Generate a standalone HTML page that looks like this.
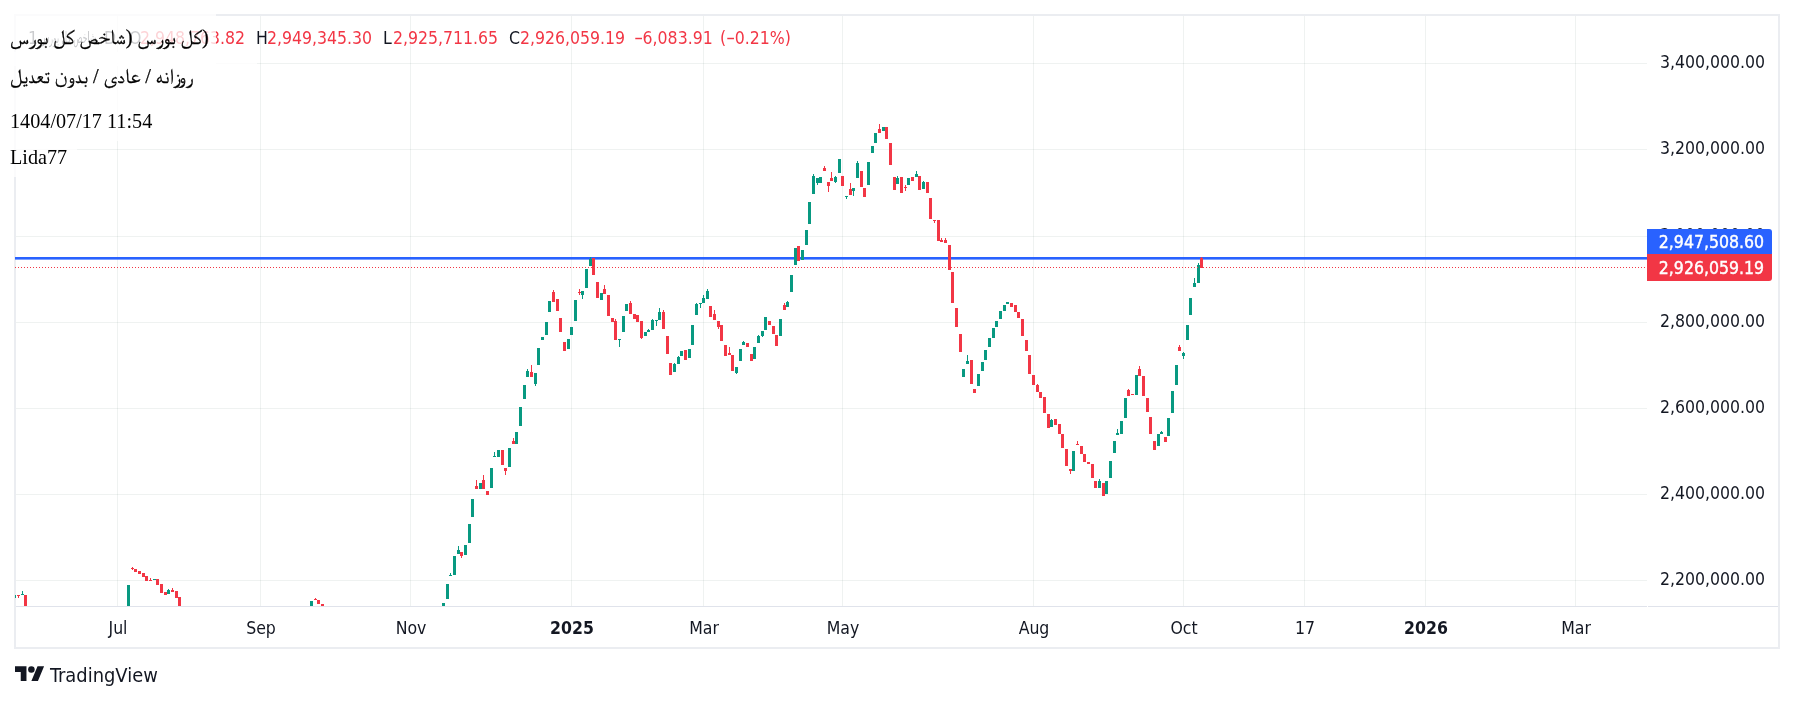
<!DOCTYPE html>
<html><head><meta charset="utf-8">
<style>
html,body{margin:0;padding:0;background:#fff;}
body{width:1794px;height:701px;position:relative;overflow:hidden;font-family:"DejaVu Sans Condensed","DejaVu Sans",sans-serif;font-stretch:condensed;}
.frame{position:absolute;left:14px;top:14px;width:1762px;height:631px;border:2px solid #ebedf1;}
svg.chart{position:absolute;left:0;top:0;}
.pl{position:absolute;right:29px;font-size:17.5px;color:#131722;line-height:20px;white-space:nowrap;text-align:right;}
.tl{position:absolute;top:618px;font-size:17.5px;color:#131722;line-height:20px;white-space:nowrap;transform:translateX(-50%);}
.lg{position:absolute;top:28px;font-size:17.5px;line-height:20px;white-space:nowrap;color:#f23645;}
.mn{display:inline-block;width:8.6px;transform:scaleX(0.68);transform-origin:0 50%;}
.ov{position:absolute;background:rgba(255,255,255,0.78);}
.ft{position:absolute;left:10px;font-family:"Liberation Serif","FreeSerif","DejaVu Sans",serif;font-size:20.2px;color:#000;white-space:nowrap;line-height:24px;}
.lbl{position:absolute;left:1647px;width:125px;color:#fff;-webkit-text-stroke:0.4px #fff;font-size:17.5px;line-height:20px;text-align:right;box-sizing:border-box;padding-right:8px;border-radius:0 3px 3px 0;}
.logo{position:absolute;left:15px;top:663px;}
.tvt{position:absolute;left:50px;top:663.5px;font-size:19.9px;color:#131722;line-height:24px;}
div{will-change:transform;}
</style></head><body>
<div class="frame"></div>
<svg class="chart" width="1794" height="701" viewBox="0 0 1794 701" shape-rendering="crispEdges">
<g fill="#1b4537" fill-opacity="0.07">
<rect x="16" y="63" width="1631" height="1"/>
<rect x="16" y="149" width="1631" height="1"/>
<rect x="16" y="236" width="1631" height="1"/>
<rect x="16" y="322" width="1631" height="1"/>
<rect x="16" y="408" width="1631" height="1"/>
<rect x="16" y="494" width="1631" height="1"/>
<rect x="16" y="580" width="1631" height="1"/>
<rect x="117" y="16" width="1" height="590"/>
<rect x="260" y="16" width="1" height="590"/>
<rect x="410" y="16" width="1" height="590"/>
<rect x="571" y="16" width="1" height="590"/>
<rect x="703" y="16" width="1" height="590"/>
<rect x="842" y="16" width="1" height="590"/>
<rect x="1033" y="16" width="1" height="590"/>
<rect x="1183" y="16" width="1" height="590"/>
<rect x="1304" y="16" width="1" height="590"/>
<rect x="1425" y="16" width="1" height="590"/>
<rect x="1575" y="16" width="1" height="590"/>
</g>
<rect x="16" y="606" width="1631" height="1" fill="#e0e3eb"/>
<rect x="1648" y="606" width="130" height="1" fill="#e0e3eb"/>
<rect x="15" y="257" width="1632" height="2.6" fill="#2962ff" shape-rendering="auto"/>
<g fill="#089981"><rect x="15" y="595" width="1" height="3"/><rect x="21" y="594" width="3" height="1"/><rect x="22" y="591" width="1" height="4"/><rect x="127" y="585" width="3" height="21"/><rect x="153" y="579" width="3" height="1"/><rect x="167" y="590" width="3" height="4"/><rect x="168" y="589" width="1" height="5"/><rect x="310" y="601" width="3" height="5"/><rect x="442" y="603" width="3" height="3"/><rect x="446" y="584" width="3" height="15"/><rect x="449" y="575" width="3" height="1"/><rect x="450" y="573" width="1" height="3"/><rect x="453" y="556" width="3" height="19"/><rect x="457" y="550" width="3" height="4"/><rect x="458" y="546" width="1" height="8"/><rect x="464" y="545" width="3" height="10"/><rect x="468" y="524" width="3" height="19"/><rect x="471" y="499" width="3" height="18"/><rect x="479" y="483" width="3" height="6"/><rect x="490" y="468" width="3" height="20"/><rect x="493" y="456" width="3" height="1"/><rect x="494" y="452" width="1" height="5"/><rect x="497" y="450" width="3" height="7"/><rect x="508" y="448" width="3" height="19"/><rect x="515" y="432" width="3" height="12"/><rect x="519" y="407" width="3" height="19"/><rect x="523" y="385" width="3" height="14"/><rect x="526" y="371" width="3" height="6"/><rect x="527" y="369" width="1" height="8"/><rect x="534" y="373" width="3" height="11"/><rect x="535" y="373" width="1" height="13"/><rect x="537" y="348" width="3" height="17"/><rect x="541" y="337" width="3" height="3"/><rect x="545" y="322" width="3" height="13"/><rect x="548" y="301" width="3" height="11"/><rect x="567" y="339" width="3" height="10"/><rect x="570" y="327" width="3" height="8"/><rect x="574" y="300" width="3" height="21"/><rect x="581" y="291" width="3" height="4"/><rect x="582" y="291" width="1" height="8"/><rect x="585" y="269" width="3" height="19"/><rect x="589" y="259" width="3" height="7"/><rect x="590" y="257" width="1" height="9"/><rect x="600" y="293" width="3" height="7"/><rect x="618" y="339" width="3" height="1"/><rect x="619" y="339" width="1" height="8"/><rect x="622" y="316" width="3" height="16"/><rect x="625" y="304" width="3" height="7"/><rect x="644" y="332" width="3" height="4"/><rect x="647" y="330" width="3" height="2"/><rect x="648" y="329" width="1" height="3"/><rect x="651" y="320" width="3" height="10"/><rect x="652" y="319" width="1" height="11"/><rect x="655" y="320" width="3" height="1"/><rect x="656" y="320" width="1" height="6"/><rect x="658" y="312" width="3" height="8"/><rect x="659" y="308" width="1" height="12"/><rect x="673" y="364" width="3" height="8"/><rect x="674" y="363" width="1" height="9"/><rect x="677" y="357" width="3" height="7"/><rect x="678" y="356" width="1" height="8"/><rect x="680" y="351" width="3" height="5"/><rect x="688" y="349" width="3" height="9"/><rect x="691" y="325" width="3" height="20"/><rect x="695" y="304" width="3" height="11"/><rect x="696" y="303" width="1" height="12"/><rect x="699" y="303" width="3" height="1"/><rect x="700" y="303" width="1" height="5"/><rect x="702" y="298" width="3" height="5"/><rect x="703" y="295" width="1" height="8"/><rect x="706" y="291" width="3" height="8"/><rect x="707" y="289" width="1" height="10"/><rect x="735" y="367" width="3" height="6"/><rect x="736" y="367" width="1" height="7"/><rect x="739" y="349" width="3" height="12"/><rect x="742" y="342" width="3" height="3"/><rect x="743" y="341" width="1" height="4"/><rect x="753" y="347" width="3" height="12"/><rect x="757" y="336" width="3" height="7"/><rect x="758" y="335" width="1" height="8"/><rect x="761" y="331" width="3" height="5"/><rect x="762" y="331" width="1" height="6"/><rect x="764" y="317" width="3" height="13"/><rect x="779" y="319" width="3" height="17"/><rect x="786" y="302" width="3" height="5"/><rect x="787" y="301" width="1" height="6"/><rect x="790" y="275" width="3" height="17"/><rect x="794" y="248" width="3" height="17"/><rect x="801" y="250" width="3" height="10"/><rect x="805" y="230" width="3" height="15"/><rect x="808" y="202" width="3" height="22"/><rect x="812" y="176" width="3" height="18"/><rect x="813" y="174" width="1" height="20"/><rect x="816" y="178" width="3" height="5"/><rect x="817" y="178" width="1" height="7"/><rect x="819" y="177" width="3" height="6"/><rect x="834" y="177" width="3" height="5"/><rect x="835" y="176" width="1" height="7"/><rect x="838" y="159" width="3" height="14"/><rect x="845" y="196" width="3" height="1"/><rect x="846" y="196" width="1" height="3"/><rect x="852" y="188" width="3" height="3"/><rect x="853" y="188" width="1" height="8"/><rect x="856" y="163" width="3" height="15"/><rect x="857" y="161" width="1" height="17"/><rect x="867" y="162" width="3" height="23"/><rect x="871" y="146" width="3" height="7"/><rect x="874" y="133" width="3" height="10"/><rect x="882" y="127" width="3" height="4"/><rect x="896" y="178" width="3" height="6"/><rect x="897" y="176" width="1" height="8"/><rect x="907" y="178" width="3" height="7"/><rect x="915" y="174" width="3" height="3"/><rect x="916" y="171" width="1" height="6"/><rect x="922" y="182" width="3" height="7"/><rect x="923" y="181" width="1" height="8"/><rect x="962" y="369" width="3" height="8"/><rect x="966" y="361" width="3" height="3"/><rect x="967" y="355" width="1" height="9"/><rect x="977" y="374" width="3" height="12"/><rect x="981" y="362" width="3" height="9"/><rect x="984" y="350" width="3" height="10"/><rect x="988" y="338" width="3" height="9"/><rect x="992" y="328" width="3" height="10"/><rect x="995" y="321" width="3" height="6"/><rect x="999" y="311" width="3" height="8"/><rect x="1003" y="305" width="3" height="6"/><rect x="1006" y="302" width="3" height="2"/><rect x="1007" y="302" width="1" height="2"/><rect x="1050" y="420" width="3" height="7"/><rect x="1051" y="419" width="1" height="8"/><rect x="1072" y="451" width="3" height="20"/><rect x="1098" y="481" width="3" height="7"/><rect x="1099" y="479" width="1" height="9"/><rect x="1105" y="481" width="3" height="13"/><rect x="1109" y="461" width="3" height="17"/><rect x="1113" y="441" width="3" height="12"/><rect x="1116" y="433" width="3" height="2"/><rect x="1117" y="429" width="1" height="6"/><rect x="1120" y="421" width="3" height="13"/><rect x="1124" y="398" width="3" height="20"/><rect x="1135" y="375" width="3" height="20"/><rect x="1157" y="434" width="3" height="12"/><rect x="1160" y="432" width="3" height="2"/><rect x="1161" y="431" width="1" height="3"/><rect x="1167" y="418" width="3" height="18"/><rect x="1171" y="391" width="3" height="22"/><rect x="1175" y="365" width="3" height="20"/><rect x="1182" y="353" width="3" height="3"/><rect x="1183" y="352" width="1" height="7"/><rect x="1186" y="325" width="3" height="15"/><rect x="1189" y="298" width="3" height="17"/><rect x="1193" y="283" width="3" height="4"/><rect x="1194" y="278" width="1" height="9"/><rect x="1197" y="265" width="3" height="18"/><rect x="1198" y="263" width="1" height="20"/></g><g fill="#f23645"><rect x="17" y="595" width="3" height="1"/><rect x="18" y="595" width="1" height="3"/><rect x="24" y="595" width="3" height="11"/><rect x="131" y="568" width="3" height="1"/><rect x="132" y="567" width="1" height="3"/><rect x="134" y="569" width="3" height="3"/><rect x="138" y="571" width="3" height="3"/><rect x="142" y="573" width="3" height="4"/><rect x="145" y="576" width="3" height="5"/><rect x="149" y="580" width="3" height="1"/><rect x="150" y="578" width="1" height="3"/><rect x="156" y="579" width="3" height="6"/><rect x="160" y="584" width="3" height="9"/><rect x="164" y="592" width="3" height="3"/><rect x="171" y="590" width="3" height="2"/><rect x="172" y="588" width="1" height="4"/><rect x="175" y="591" width="3" height="7"/><rect x="178" y="597" width="3" height="9"/><rect x="314" y="599" width="3" height="1"/><rect x="315" y="598" width="1" height="2"/><rect x="317" y="600" width="3" height="4"/><rect x="321" y="604" width="3" height="2"/><rect x="460" y="552" width="3" height="4"/><rect x="461" y="552" width="1" height="6"/><rect x="475" y="486" width="3" height="3"/><rect x="476" y="480" width="1" height="9"/><rect x="482" y="480" width="3" height="9"/><rect x="483" y="475" width="1" height="14"/><rect x="486" y="491" width="3" height="4"/><rect x="501" y="450" width="3" height="15"/><rect x="504" y="468" width="3" height="3"/><rect x="505" y="468" width="1" height="7"/><rect x="512" y="441" width="3" height="3"/><rect x="513" y="438" width="1" height="6"/><rect x="530" y="372" width="3" height="5"/><rect x="531" y="365" width="1" height="12"/><rect x="552" y="292" width="3" height="10"/><rect x="553" y="290" width="1" height="12"/><rect x="556" y="299" width="3" height="12"/><rect x="559" y="318" width="3" height="14"/><rect x="563" y="342" width="3" height="9"/><rect x="578" y="292" width="3" height="1"/><rect x="579" y="289" width="1" height="6"/><rect x="592" y="258" width="3" height="17"/><rect x="596" y="282" width="3" height="16"/><rect x="603" y="289" width="3" height="5"/><rect x="604" y="285" width="1" height="9"/><rect x="607" y="295" width="3" height="21"/><rect x="611" y="318" width="3" height="4"/><rect x="614" y="321" width="3" height="19"/><rect x="615" y="319" width="1" height="21"/><rect x="629" y="303" width="3" height="11"/><rect x="630" y="301" width="1" height="13"/><rect x="633" y="314" width="3" height="5"/><rect x="636" y="315" width="3" height="7"/><rect x="640" y="321" width="3" height="17"/><rect x="641" y="321" width="1" height="18"/><rect x="662" y="312" width="3" height="17"/><rect x="663" y="310" width="1" height="19"/><rect x="666" y="336" width="3" height="18"/><rect x="669" y="363" width="3" height="12"/><rect x="684" y="350" width="3" height="10"/><rect x="709" y="306" width="3" height="11"/><rect x="713" y="314" width="3" height="6"/><rect x="714" y="310" width="1" height="10"/><rect x="717" y="321" width="3" height="6"/><rect x="718" y="321" width="1" height="8"/><rect x="720" y="325" width="3" height="16"/><rect x="724" y="345" width="3" height="11"/><rect x="728" y="353" width="3" height="2"/><rect x="729" y="347" width="1" height="8"/><rect x="731" y="355" width="3" height="16"/><rect x="746" y="343" width="3" height="4"/><rect x="750" y="354" width="3" height="7"/><rect x="768" y="321" width="3" height="4"/><rect x="772" y="326" width="3" height="8"/><rect x="775" y="335" width="3" height="11"/><rect x="783" y="305" width="3" height="5"/><rect x="784" y="303" width="1" height="7"/><rect x="797" y="246" width="3" height="15"/><rect x="823" y="168" width="3" height="3"/><rect x="824" y="166" width="1" height="5"/><rect x="827" y="182" width="3" height="4"/><rect x="828" y="182" width="1" height="10"/><rect x="830" y="178" width="3" height="3"/><rect x="831" y="172" width="1" height="9"/><rect x="841" y="176" width="3" height="10"/><rect x="849" y="189" width="3" height="6"/><rect x="850" y="183" width="1" height="12"/><rect x="860" y="171" width="3" height="16"/><rect x="863" y="188" width="3" height="9"/><rect x="878" y="129" width="3" height="4"/><rect x="879" y="124" width="1" height="9"/><rect x="885" y="127" width="3" height="12"/><rect x="889" y="143" width="3" height="22"/><rect x="893" y="177" width="3" height="13"/><rect x="900" y="177" width="3" height="16"/><rect x="904" y="187" width="3" height="1"/><rect x="905" y="185" width="1" height="6"/><rect x="911" y="177" width="3" height="4"/><rect x="918" y="176" width="3" height="14"/><rect x="926" y="182" width="3" height="11"/><rect x="929" y="198" width="3" height="21"/><rect x="933" y="220" width="3" height="1"/><rect x="934" y="220" width="1" height="3"/><rect x="937" y="220" width="3" height="21"/><rect x="940" y="240" width="3" height="2"/><rect x="941" y="238" width="1" height="4"/><rect x="944" y="240" width="3" height="3"/><rect x="945" y="238" width="1" height="5"/><rect x="948" y="245" width="3" height="25"/><rect x="951" y="272" width="3" height="31"/><rect x="955" y="308" width="3" height="19"/><rect x="959" y="334" width="3" height="18"/><rect x="970" y="360" width="3" height="24"/><rect x="973" y="389" width="3" height="4"/><rect x="1010" y="303" width="3" height="4"/><rect x="1014" y="305" width="3" height="7"/><rect x="1017" y="312" width="3" height="6"/><rect x="1021" y="319" width="3" height="17"/><rect x="1025" y="340" width="3" height="11"/><rect x="1028" y="355" width="3" height="19"/><rect x="1032" y="375" width="3" height="10"/><rect x="1036" y="385" width="3" height="7"/><rect x="1037" y="384" width="1" height="8"/><rect x="1039" y="392" width="3" height="6"/><rect x="1043" y="397" width="3" height="16"/><rect x="1047" y="414" width="3" height="14"/><rect x="1054" y="419" width="3" height="6"/><rect x="1058" y="424" width="3" height="10"/><rect x="1061" y="434" width="3" height="14"/><rect x="1065" y="449" width="3" height="17"/><rect x="1069" y="469" width="3" height="2"/><rect x="1070" y="469" width="1" height="5"/><rect x="1076" y="444" width="3" height="1"/><rect x="1077" y="441" width="1" height="4"/><rect x="1080" y="446" width="3" height="8"/><rect x="1083" y="454" width="3" height="8"/><rect x="1087" y="462" width="3" height="2"/><rect x="1091" y="464" width="3" height="14"/><rect x="1094" y="481" width="3" height="7"/><rect x="1102" y="483" width="3" height="13"/><rect x="1127" y="390" width="3" height="6"/><rect x="1128" y="389" width="1" height="7"/><rect x="1131" y="394" width="3" height="1"/><rect x="1138" y="369" width="3" height="7"/><rect x="1139" y="366" width="1" height="10"/><rect x="1142" y="376" width="3" height="20"/><rect x="1146" y="398" width="3" height="14"/><rect x="1149" y="417" width="3" height="17"/><rect x="1153" y="441" width="3" height="9"/><rect x="1164" y="437" width="3" height="5"/><rect x="1178" y="347" width="3" height="4"/><rect x="1179" y="345" width="1" height="6"/><rect x="1200" y="258" width="3" height="10"/><rect x="1201" y="257" width="1" height="11"/></g>
<line x1="15" y1="267.5" x2="1647" y2="267.5" stroke="#f23645" stroke-width="1" stroke-dasharray="1 2"/>
</svg>
<!-- price axis -->
<div class="pl" style="top:52px">3,400,000.00</div>
<div class="pl" style="top:138px">3,200,000.00</div>
<div class="pl" style="top:225px">3,000,000.00</div>
<div class="pl" style="top:311px">2,800,000.00</div>
<div class="pl" style="top:397px">2,600,000.00</div>
<div class="pl" style="top:483px">2,400,000.00</div>
<div class="pl" style="top:569px">2,200,000.00</div>
<div class="lbl" style="top:229px;height:25px;background:#2962ff;padding-top:3px;border-radius:0 3px 0 0;">2,947,508.60</div>
<div class="lbl" style="top:254px;height:27px;background:#f23645;padding-top:4px;border-radius:0 0 3px 0;">2,926,059.19</div>
<!-- time axis -->
<div class="tl" style="left:117.5px">Jul</div>
<div class="tl" style="left:260.5px">Sep</div>
<div class="tl" style="left:410.5px">Nov</div>
<div class="tl" style="left:571.5px;font-weight:bold">2025</div>
<div class="tl" style="left:703.5px">Mar</div>
<div class="tl" style="left:842.5px">May</div>
<div class="tl" style="left:1033.5px">Aug</div>
<div class="tl" style="left:1183.5px">Oct</div>
<div class="tl" style="left:1304.5px">17</div>
<div class="tl" style="left:1425.5px;font-weight:bold">2026</div>
<div class="tl" style="left:1575.5px">Mar</div>
<!-- legend -->
<div class="lg" style="left:28px;color:#131722">1</div>
<div class="lg" style="left:40px;color:#131722;font-family:'DejaVu Sans',sans-serif;font-size:16px;transform-origin:0 0;transform:scaleX(0.53)" id="fp">شاخص کل بورس</div>
<div class="lg" style="left:104px;color:#131722">D</div>
<div class="lg" style="left:129px;color:#131722">O</div>
<div class="lg" style="left:140px">2,948,763.82</div>
<div class="lg" style="left:255.5px;color:#131722">H</div>
<div class="lg" style="left:267px">2,949,345.30</div>
<div class="lg" style="left:382.5px;color:#131722">L</div>
<div class="lg" style="left:393px">2,925,711.65</div>
<div class="lg" style="left:508.5px;color:#131722">C</div>
<div class="lg" style="left:519.5px">2,926,059.19</div>
<div class="lg" style="left:634px"><span class="mn">−</span>6,083.91</div>
<div class="lg" style="left:719.5px">(<span class="mn">−</span>0.21%)</div>
<!-- overlay -->
<div class="ov" style="left:0;top:0;width:216px;height:66px"></div>
<div class="ov" style="left:0;top:52px;width:257px;height:48px"></div>
<div class="ov" style="left:0;top:100px;width:160px;height:41px"></div>
<div class="ov" style="left:0;top:141px;width:77px;height:36px"></div>
<div class="ft" style="top:25px;font-size:20.3px;-webkit-text-stroke:0.25px #000"><span dir="rtl">کل بورس (شاخص کل بورس</span>)</div>
<div class="ft" style="top:64px;font-size:20.3px;-webkit-text-stroke:0.25px #000">روزانه / عادی / بدون تعدیل</div>
<div class="ft" style="top:108.5px;left:9.5px">1404/07/17 11:54</div>
<div class="ft" style="top:144.5px;left:9.5px">Lida77</div>
<!-- logo -->
<svg class="logo" width="29.5" height="23" viewBox="0 0 36 28" style="top:662.9px"><path fill="#131722" d="M14 22H7V11H0V4h14v18zM28 22h-8l7.5-18h8L28 22z"/><circle fill="#131722" cx="20" cy="8" r="4"/></svg>
<div class="tvt">TradingView</div>
</body></html>
